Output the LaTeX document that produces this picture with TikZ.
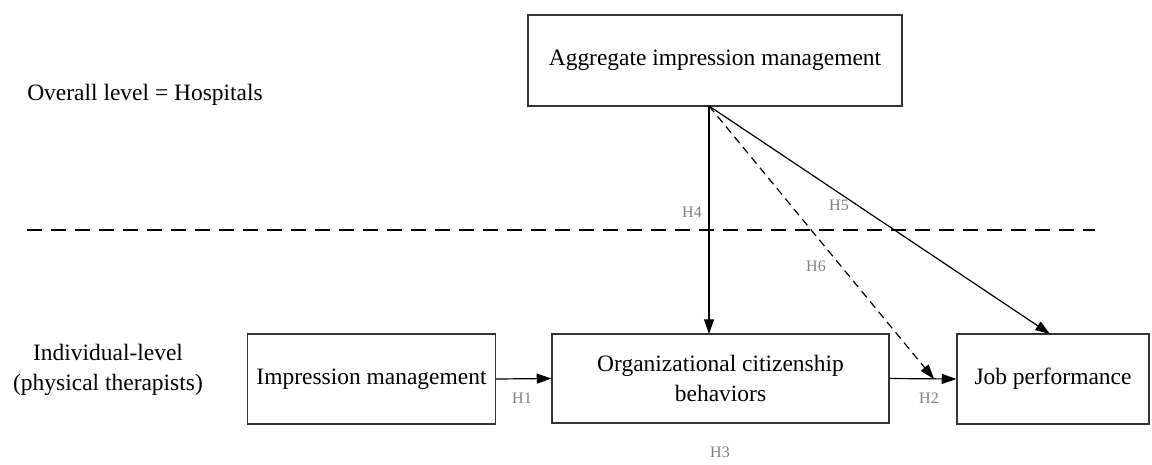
\documentclass[tikz,border=0pt]{standalone}
\usepackage{fontspec}
\setmainfont{Liberation Serif}
\usetikzlibrary{arrows.meta}
\begin{document}
\begin{tikzpicture}[x=0.75pt,y=-0.75pt,
  box/.style={draw=black!80,line width=0.9pt,inner sep=0pt,font=\fontsize{17.6}{22.5}\selectfont,align=center},
  lbl/.style={font=\fontsize{17.6}{22.5}\selectfont,align=center,inner sep=0pt},
  hyp/.style={font=\fontsize{12}{14}\selectfont,text=black!50,inner sep=0pt},
  arr/.style={line width=0.9pt,-{Triangle[length=11pt,width=7.5pt]}},
  longdash/.style={line width=0.9pt,dash pattern=on 11pt off 7pt}]
\useasboundingbox (0,0) rectangle (1152,464);
\node[box,minimum width=374*0.75pt,minimum height=91*0.75pt] (agg) at (715,60.5) {Aggregate impression management};
\node[box,minimum width=248*0.75pt,minimum height=90*0.75pt] (im) at (371.5,379) {Impression management};
\node[box,minimum width=337*0.75pt,minimum height=89*0.75pt] (ocb) at (720.5,378.5) {Organizational citizenship\\behaviors};
\node[box,minimum width=192*0.75pt,minimum height=90*0.75pt] (job) at (1053,379) {Job performance};
\node[lbl] (overall) at (145,95) {Overall level = Hospitals};
\node[lbl] (indiv) at (108,370) {Individual-level\\(physical therapists)};
\coordinate (dl) at (27,230);
\coordinate (dr) at (1095,230);
\draw[longdash] (dl) -- (dr);
\coordinate (src) at (709,106);
\coordinate (h4end) at (709,334);
\coordinate (h5end) at (1050,334);
\coordinate (h6end) at (934,379);
\draw[arr] (im.east) -- (ocb.west);
\draw[arr] (ocb.east) -- (job.west);
\draw[arr] (src) -- (h4end);
\draw[arr] (src) -- (h5end);
\draw[arr,dash pattern=on 6pt off 4pt] (src) -- (h6end);
\node[hyp] (h1) at (522,398) {H1};
\node[hyp] (h2) at (929,398) {H2};
\node[hyp] (h3) at (720,452) {H3};
\node[hyp] (h4) at (692,212) {H4};
\node[hyp] (h5) at (839,205) {H5};
\node[hyp] (h6) at (816,266) {H6};
\end{tikzpicture}
\end{document}
